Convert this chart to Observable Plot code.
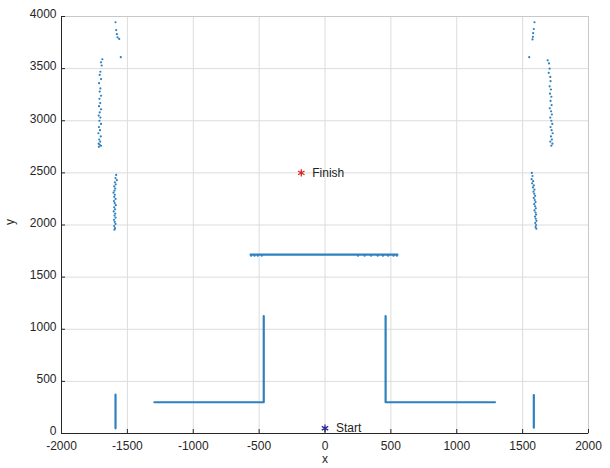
<!DOCTYPE html>
<html>
<head>
<meta charset="utf-8">
<script src="https://cdn.jsdelivr.net/npm/d3@7"></script>
<script src="https://cdn.jsdelivr.net/npm/@observablehq/plot@0.6"></script>
<style>
  html, body { margin: 0; padding: 0; background: #fff; }
  #chart svg { display: block; }
</style>
</head>
<body>
<div id="chart"></div>
<script>
// ---- Data ----
const xTicks = [-2000, -1500, -1000, -500, 0, 500, 1000, 1500, 2000];
const yTicks = [0, 500, 1000, 1500, 2000, 2500, 3000, 3500, 4000];

// Line segments (id, x, y)
const segId = ["postL","postL","Lleft","Lleft","Lleft","Lright","Lright","Lright","postR","postR","bar","bar"];
const segX  = [-1590, -1590, -1295, -465, -465, 460, 460, 1290, 1585, 1585, -565, 550];
const segY  = [50, 372, 300, 300, 1125, 1125, 300, 300, 55, 368, 1715, 1715];

// Scatter clusters
const leftTopX = [-1590, -1585, -1580, -1575, -1562, -1550];
const leftTopY = [3945, 3870, 3830, 3800, 3785, 3610];
const leftMidX = [-1690,-1700,-1695,-1705,-1710,-1700,-1715,-1705,-1710,-1700,-1712,-1706,-1715,-1700,-1710,-1718,-1705,-1712,-1700,-1716,-1708,-1720,-1702,-1714,-1706,-1718,-1710,-1700,-1716];
const leftMidY = [3590,3560,3530,3470,3440,3400,3360,3310,3280,3240,3210,3170,3140,3110,3080,3050,3030,3000,2970,2940,2910,2880,2850,2820,2800,2780,2770,2760,2750];
const leftLowX = [-1585,-1590,-1580,-1595,-1588,-1600,-1592,-1598,-1605,-1595,-1600,-1590,-1602,-1596,-1588,-1600,-1594,-1604,-1592,-1598,-1590,-1602,-1596,-1590,-1600,-1594,-1598];
const leftLowY = [2480,2450,2430,2410,2390,2370,2350,2330,2310,2290,2270,2250,2230,2210,2190,2170,2150,2130,2110,2090,2070,2050,2030,2010,1990,1970,1955];
const rightTopX = [1590, 1585, 1580, 1578, 1575, 1550];
const rightTopY = [3945, 3880, 3840, 3805, 3780, 3610];
const rightMidX = [1690,1700,1705,1698,1710,1712,1705,1715,1708,1718,1712,1720,1706,1716,1722,1710,1718,1725,1712,1720,1728,1715,1722,1710,1726,1718];
const rightMidY = [3580,3550,3500,3460,3420,3380,3330,3300,3260,3230,3190,3150,3120,3090,3060,3030,3000,2970,2940,2910,2880,2850,2820,2800,2780,2760];
const rightLowX = [1570,1575,1568,1580,1572,1585,1578,1590,1582,1588,1595,1585,1592,1598,1588,1595,1600,1590,1598,1602,1594,1600,1605,1596,1602,1598,1604];
const rightLowY = [2500,2470,2440,2420,2400,2380,2360,2340,2320,2300,2280,2260,2240,2220,2200,2180,2160,2140,2120,2100,2080,2060,2040,2020,2000,1980,1965];
const barDotX = [-560, -535, -510, -480, 250, 300, 350, 400, 440, 480, 520, 545];
const barDotY = [1705, 1705, 1705, 1705, 1705, 1705, 1705, 1705, 1705, 1705, 1705, 1705];

const markerLabels = ["Start", "Finish"];
const markerX = [0, -180];
const markerY = [50, 2500];
const markerColors = ["#2b2b9e", "#d62728"];

// ---- Build tables ----
const segments = segId.map((id, i) => ({id, x: segX[i], y: segY[i]}));
const zip = (xs, ys) => xs.map((x, i) => ({x, y: ys[i]}));
const scatter = [
  ...zip(leftTopX, leftTopY), ...zip(leftMidX, leftMidY), ...zip(leftLowX, leftLowY),
  ...zip(rightTopX, rightTopY), ...zip(rightMidX, rightMidY), ...zip(rightLowX, rightLowY),
  ...zip(barDotX, barDotY)
];
const markers = markerLabels.map((label, i) => ({label, x: markerX[i], y: markerY[i], color: markerColors[i]}));

const lineColor = "#2f80bf";
const axisColor = "#262626";
const fmt = d => String(d);

const chart = Plot.plot({
  width: 610,
  height: 468,
  marginLeft: 61,
  marginRight: 22,
  marginTop: 16,
  marginBottom: 35,
  style: {fontFamily: "'Liberation Sans', Arial, sans-serif", fontSize: "12px", color: axisColor, background: "#fff"},
  x: {domain: [-2000, 2000]},
  y: {domain: [0, 4000]},
  marks: [
    Plot.gridX(xTicks, {stroke: "#dcdcdc", strokeOpacity: 1}),
    Plot.gridY(yTicks, {stroke: "#dcdcdc", strokeOpacity: 1}),
    Plot.frame({stroke: "#c8c8c8"}),
    Plot.line(segments, {x: "x", y: "y", z: "id", stroke: lineColor, strokeWidth: 2.2}),
    Plot.dot(scatter, {x: "x", y: "y", r: 1.1, fill: lineColor, stroke: "none"}),
    Plot.dot(markers, {x: "x", y: "y", symbol: "asterisk", r: 3.5, stroke: "color", strokeWidth: 1.3}),
    Plot.text(markers, {x: "x", y: "y", text: "label", textAnchor: "start", dx: 11, fill: "#222", fontSize: 12}),
    Plot.ruleY([0], {stroke: axisColor, strokeWidth: 1}),
    Plot.ruleX([-2000], {stroke: axisColor, strokeWidth: 1}),
    Plot.axisX(xTicks, {tickSize: 4, dy: -4, text: null, stroke: axisColor, label: null}),
    Plot.axisY(yTicks, {anchor: "left", tickSize: 4, dx: 4, text: null, stroke: axisColor, label: null}),
    Plot.axisX(xTicks, {tickSize: 0, tickPadding: 8, tickFormat: fmt, fill: axisColor, fontSize: 12, label: null}),
    Plot.axisY(yTicks, {anchor: "left", tickSize: 0, tickPadding: 5, tickFormat: fmt, fill: axisColor, fontSize: 12, label: null, dy: -2}),
    Plot.text(["x"], {frameAnchor: "bottom", dy: 29, fill: axisColor, fontSize: 12}),
    Plot.text(["y"], {frameAnchor: "left", dx: -51, rotate: -90, fill: axisColor, fontSize: 12})
  ]
});
document.getElementById("chart").appendChild(chart);
</script>
</body>
</html>
